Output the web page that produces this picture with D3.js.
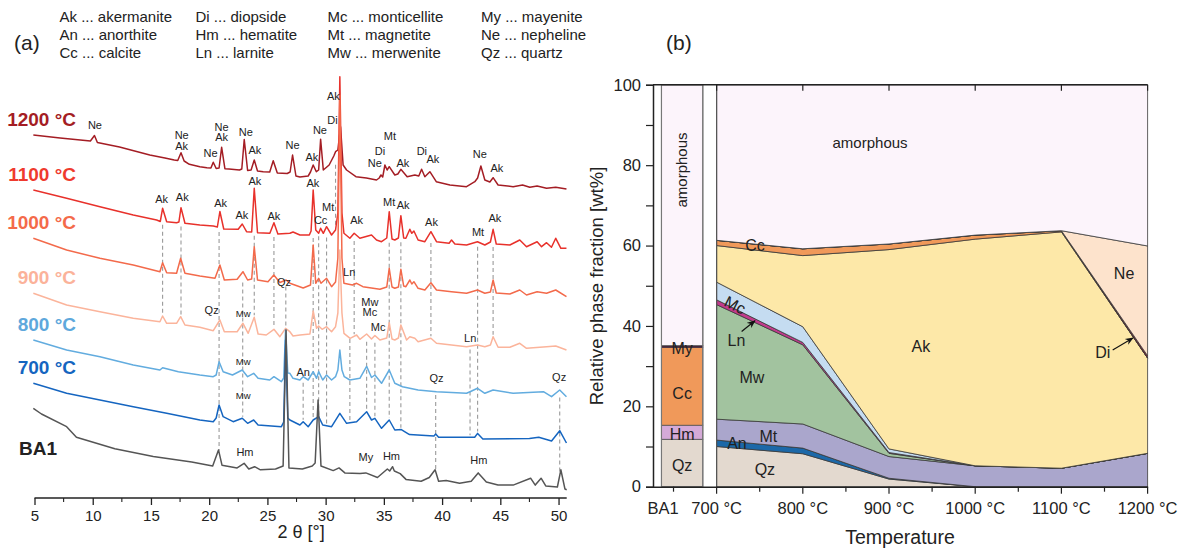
<!DOCTYPE html>
<html>
<head>
<meta charset="utf-8">
<script src="https://cdn.jsdelivr.net/npm/d3@7"></script>
<style>
  body { margin: 0; background: #fff; }
  svg { display: block; }
  text { font-family: Arial, "Liberation Sans", Helvetica, sans-serif; fill: #222; }
</style>
</head>
<body>
<svg id="fig" width="1180" height="550"></svg>
<script>
// ---------- (a) XRD patterns ----------
const legendRows = [
  ["Ak ... akermanite", "Di ... diopside", "Mc ... monticellite", "My ... mayenite"],
  ["An ... anorthite", "Hm ... hematite", "Mt ... magnetite", "Ne ... nepheline"],
  ["Cc ... calcite", "Ln ... larnite", "Mw ... merwenite", "Qz ... quartz"]
];

const sampleNames = ["BA1", "700 °C", "800 °C", "900 °C", "1000 °C", "1100 °C", "1200 °C"];
const sampleColors = ["#555555", "#1565c0", "#62acdf", "#fbb49b", "#f36a4b", "#e8312b", "#a41d24"];
const sampleLabelColors = ["#222222", "#1565c0", "#5ea8dc", "#fbb29a", "#f46a4a", "#ef3a2e", "#a41d24"];

// [2θ in °, stacked intensity in a.u.]
const xrdBA1 = [[4.9,89.7],[5.6,84],[7.76,71.3],[8.6,60.8],[11.9,49.3],[15.2,41.6],[18.5,35.9],[20.3,32],[20.8,48.1],[21.1,32.8],[22.4,30.1],[23.0,34.7],[23.4,29],[23.9,31.3],[24.4,28.2],[25.7,29],[26.35,32],[26.6,168],[26.85,30.1],[28.0,29],[28.85,32],[29.1,35],[29.35,98],[29.6,32],[30.65,27.4],[31.15,30.1],[31.65,25.1],[32.95,24.4],[33.45,25.1],[34.45,20.5],[35.3,29],[35.5,27],[35.75,31.3],[35.9,27],[36.4,24.4],[36.9,18.6],[38.2,16.7],[38.9,20.5],[39.4,28.2],[39.7,16.7],[40.35,17.5],[41.5,14.8],[42.5,16.7],[43.1,25.1],[43.8,15.9],[44.8,12.9],[46.1,12.9],[47.6,19.8],[48.0,12.9],[48.5,19.8],[48.9,12.1],[49.9,11],[50.2,28.2],[50.55,9],[50.7,8.3]];
const xrd700 = [[4.9,114.7],[7.76,104.7],[10.62,98],[13.48,91.3],[16.35,84.7],[19.2,78],[20.35,76.3],[20.6,80],[20.85,93],[21.2,81.3],[22.06,76.3],[22.84,79.7],[23.3,74.7],[23.82,78],[24.2,73],[26.2,71.3],[26.4,76],[26.56,158],[26.75,80],[26.93,78],[27.79,73],[28.07,76.3],[28.5,71.3],[28.93,78],[29.4,81.3],[29.75,73],[30.51,71.3],[31.22,84.7],[31.8,74.7],[32.66,76.3],[33.52,86.3],[33.94,78],[34.23,79.7],[34.8,69.7],[35.46,78],[35.94,68],[36.5,68.4],[37.2,63.4],[39.3,62],[39.45,64],[39.7,60.8],[42.8,60.8],[43.05,64.6],[43.5,59],[47.5,59.6],[48.3,60.8],[49.4,57],[50.1,67.3],[50.68,55]];
const xrd800 = [[4.9,158],[7.76,148],[10.62,141.3],[13.48,133],[15.77,128],[16.0,130.3],[17.35,126.3],[19.2,123],[20.35,121.3],[20.6,123],[20.85,136.3],[21.2,126.3],[22.0,123],[22.84,128],[23.3,121.3],[23.82,124.7],[24.2,119.7],[25.2,118],[25.56,121.3],[26.2,116.3],[26.4,120],[26.56,168],[26.75,125],[26.93,124.7],[27.2,119.7],[27.79,118],[28.07,121.3],[28.5,118],[28.93,126.3],[29.22,119.7],[29.4,126.3],[29.75,118],[30.08,123],[30.51,118],[30.85,121.3],[31.05,128],[31.22,148],[31.4,128],[31.6,121.3],[32.08,118],[32.94,119.7],[33.52,131.7],[33.94,120.5],[34.23,123],[34.8,114.7],[35.46,128],[35.94,114.7],[36.6,111.3],[37.94,108],[39.52,106.3],[42.1,104.7],[42.4,106.3],[43.04,109.7],[43.67,104.7],[44.38,108],[46.1,104.7],[48.7,106.3],[49.4,101.3],[50.1,108],[50.68,101.3]];
const xrd900 = [[4.9,204.7],[7.76,193],[10.62,186.3],[13.48,179.7],[15.77,176.3],[16.0,182],[16.35,174.7],[17.2,174.7],[17.55,181.3],[17.92,173],[19.2,170.7],[20.35,167.3],[20.92,178],[21.3,166.3],[22.4,166.3],[22.9,174.7],[23.35,164.7],[23.87,180.7],[24.2,164],[24.9,163],[25.56,168.7],[26.07,161.3],[26.56,169.7],[26.93,166.3],[27.2,162],[27.8,163],[28.65,164],[28.93,187],[29.22,169.7],[29.4,172],[29.7,168.7],[30.08,171.3],[30.51,166.3],[30.85,171.3],[31.05,185],[31.22,248],[31.4,185],[31.57,164.7],[32.1,159.7],[32.66,163],[32.94,158.7],[33.52,164],[33.94,159],[34.23,162.5],[34.66,158],[35.25,160],[35.46,175.3],[35.7,159],[35.94,158],[36.25,160],[36.46,173],[36.95,158],[37.23,161.3],[37.66,159.7],[37.94,156.3],[39.04,159.7],[39.52,154.7],[40.81,153],[42.1,151.3],[43.04,153],[43.67,151.3],[44.15,153],[44.38,161.3],[44.81,150.7],[45.82,150.7],[46.67,154.7],[47.25,149.7],[48.97,151.3],[49.76,152],[50.68,148]];
const xrd1000 = [[4.9,259.7],[7.76,248],[10.62,239.7],[13.48,233],[15.77,226.3],[16.0,235.3],[16.35,225.3],[17.2,224.7],[17.55,239.7],[17.92,224.7],[19.2,222],[20.5,219.7],[20.92,233],[21.3,218],[22.4,218.7],[22.9,226.3],[23.3,218],[23.65,219],[23.87,251.3],[24.15,218],[25.05,216.3],[25.55,223],[26.07,215.5],[26.6,218],[26.93,214.7],[28.07,210],[28.7,213],[28.93,253],[29.15,214.7],[29.4,219.7],[29.6,214.7],[30.08,219.7],[30.51,211.3],[30.85,216],[31.05,240],[31.22,403],[31.4,240],[31.57,214.7],[32.3,213],[32.66,214.7],[33.2,211.3],[34.66,208.7],[35.25,211],[35.46,229.7],[35.7,211],[35.94,209.7],[36.25,211],[36.46,228.7],[36.7,212],[36.89,211.3],[37.23,218],[37.4,214],[37.58,216.3],[37.94,209.7],[38.52,208],[39.04,215.3],[39.52,208],[40.81,206.3],[42.1,204.7],[43.04,208],[43.67,204.7],[44.15,206],[44.38,218],[44.65,205],[45.82,204],[46.67,208],[47.25,203],[48.16,206.3],[48.97,204.7],[49.76,208],[50.68,201.3]];
const xrd1100 = [[4.9,308],[7.76,299.7],[10.62,291.3],[13.48,283],[15.49,278],[15.8,276.5],[16.0,289.7],[16.35,276.3],[17.2,275.3],[17.4,276],[17.58,290.3],[17.92,274.7],[19.2,273],[20.35,272],[20.7,271],[20.92,286.5],[21.25,269],[22.49,268.7],[22.84,274],[23.21,266.3],[23.65,266],[23.87,309.7],[24.15,265.3],[25.21,264.7],[25.56,275.3],[25.9,264],[26.93,264.7],[27.2,266],[27.79,263],[28.6,263],[28.75,267],[28.93,308],[29.15,268],[29.4,264.7],[29.57,269.7],[29.8,264.7],[30.08,271.3],[30.51,263],[30.85,268],[31.05,285],[31.22,421.3],[31.4,285],[31.57,264.7],[32.08,259.7],[32.45,264.7],[32.94,259.7],[33.94,263],[34.37,258],[34.8,256.3],[35.25,260],[35.46,286.3],[35.7,259],[35.94,258],[36.25,260],[36.46,282.3],[36.7,260],[36.89,259.7],[37.23,268.7],[37.4,264.7],[37.58,267],[37.94,258],[38.52,256.3],[39.04,266.3],[39.52,256.3],[40.6,254.7],[40.81,258],[41.1,254],[42.1,253],[43.04,256.3],[43.67,253],[44.15,256],[44.38,268.7],[44.65,254],[45.82,253],[46.67,258],[47.25,251.3],[48.16,256.3],[48.54,251.3],[48.97,255.3],[49.39,250.7],[49.76,259.7],[50.2,249.7],[50.68,249.7]];
const xrd1200 = [[4.9,363],[7.2,360],[9.8,357],[10.15,362.5],[10.4,355.5],[12.3,351],[14.9,343],[16.2,340],[17.0,338],[17.3,337.5],[17.58,345.3],[17.85,337],[18.3,333.7],[19.2,331.3],[19.8,330.3],[20.15,330],[20.35,335.8],[20.6,329.5],[20.85,330],[21.07,350.7],[21.35,329.3],[21.7,329],[22.6,328],[22.8,329],[23.01,358.5],[23.3,327.5],[23.6,328],[23.87,338],[24.15,327],[24.64,326.3],[25.2,326],[25.5,337.3],[25.85,325],[26.7,324.5],[26.95,326],[27.16,343],[27.45,322],[27.79,321],[28.5,322],[28.7,326],[28.93,333],[29.2,326.3],[29.4,328],[29.57,358.7],[29.8,328],[30.3,333],[30.7,342],[30.85,346.3],[31.05,348],[31.28,371.3],[31.5,333],[31.8,328],[32.6,321.3],[33.5,320],[34.37,318],[34.6,320],[34.75,323],[34.9,321],[35.09,333],[35.28,328],[35.46,331.3],[35.94,323],[36.2,324],[36.46,328.7],[37.0,321.3],[37.66,323],[38.0,322],[38.24,328.7],[38.52,321.3],[38.95,326.3],[39.5,316.3],[40.67,313],[42.1,311.3],[42.81,316.3],[43.05,320],[43.33,332],[43.67,318],[44.1,316],[44.38,320.3],[44.81,313],[46.1,311.3],[46.91,313],[47.53,310.7],[48.16,312],[48.97,309.7],[49.76,310.7],[50.68,309]];
const patterns = [xrdBA1, xrd700, xrd800, xrd900, xrd1000, xrd1100, xrd1200];

// reflection guides: [2θ, upper pattern index, lower pattern index]
const guideLines = [
  [16.0,5,3],[17.58,5,3],[20.85,5,0],[22.88,4,1],[23.87,5,3],[25.56,5,3],[26.58,4,0],
  [28.07,2,1],[28.93,5,1],[29.4,5,1],[30.08,5,1],[30.85,6,5],[32.08,3,1],[32.45,5,3],
  [33.52,3,1],[34.23,3,1],[35.46,5,1],[36.46,5,1],[39.04,5,3],[39.45,2,0],[42.4,3,1],
  [43.05,5,1],[44.38,5,3],[50.1,2,0]
];

// peak labels: [text, 2θ, a.u., small]
const peakLabels = [
  ["Ne",10.19,373],["Ne",17.64,363],["Ak",17.64,352.3],["Ne",20.12,344.7],["Ne",21.07,371.3],["Ak",21.07,360.5],
  ["Ne",23.15,365.5],["Ak",23.92,348.3],["Ne",27.16,353],["Ak",28.82,341],["Ne",29.51,367.5],["Di",30.58,378],
  ["Ak",30.67,402],["Ne",34.23,335],["Di",34.66,347],["Mt",35.52,362],["Ak",36.63,335],["Di",38.26,347],
  ["Ak",39.21,339],["Ne",43.24,344],["Ak",44.7,330],
  ["Ak",15.92,298.7],["Ak",17.69,301.3],["Ak",20.98,295.3],["Ak",22.81,283],["Ak",23.93,317.3],["Ak",25.56,282.3],
  ["Ak",28.91,314.7],["Cc",29.57,278],["Mt",30.22,291.3],["Ak",32.66,278],["Mt",35.45,296.3],["Ak",36.66,293],
  ["Ak",39.09,276.3],["Mt",43.09,265.7],["Ak",44.53,279.7],
  ["Qz",26.42,216.3],["Ln",32.02,225.5],
  ["Qz",20.21,188],["Mw",22.92,184,1],["Mw",33.8,196.3],["Mc",33.8,186.3],["Mc",34.51,170.7],["Ln",42.41,159.7],
  ["Mw",22.92,136.3,1],["An",28.07,126.3],["Qz",39.52,119.7],["Qz",50.05,121.3],
  ["Mw",22.92,102,1],["Hm",23.07,45.4],["My",33.45,40.5],["Hm",35.65,41.6],["Hm",43.15,37.8]
];

const twoThetaTicks = [5, 10, 15, 20, 25, 30, 35, 40, 45, 50];

// ---------- (b) phase fractions ----------
const temps = [700, 800, 900, 1000, 1100, 1200];
const phaseKeys = ["Qz", "An", "Mt", "Mw", "Ln", "Mc", "Ak", "Cc", "Di", "Ne", "amorphous"];
const qz  = [10.0, 8.2, 1.9, 0, 0, 0];
const an  = [1.6, 1.4, 0.2, 0, 0, 0];
const mt  = [5.2, 6.0, 5.4, 5.2, 4.6, 8.3];
const mw  = [28.5, 19.7, 0.8, 0, 0, 0];
const ln  = [1.2, 0.6, 0.2, 0, 0, 0];
const mc  = [4.4, 3.9, 0.9, 0, 0, 0];
const ak  = [9.1, 17.7, 49.6, 56.4, 58.8, 23.7];
const cc  = [1.3, 1.7, 1.4, 1.0, 0.3, 0];
const di  = [0, 0, 0, 0, 0, 0.6];
const ne  = [0, 0, 0, 0, 0, 27.3];
const phaseSeries = { Qz: qz, An: an, Mt: mt, Mw: mw, Ln: ln, Mc: mc, Ak: ak, Cc: cc, Di: di, Ne: ne };

const ba1Keys = ["Qz", "Hm", "Cc", "My", "amorphous"];
const ba1Values = [11.8, 3.5, 19.4, 0.4, 64.9];
const ba1Span = [636, 684];

const phaseColors = {
  Qz: "#e3d9cf", An: "#1c68a8", Mt: "#aaa6cc", Mw: "#a2c39f", Ln: "#c23a8c", Mc: "#c5dcf1",
  Ak: "#fde8a8", Cc: "#f0995a", Di: "#8a1a2a", Ne: "#fde3cc", Hm: "#d5aad8", My: "#4a2a40",
  amorphous: "#fcf4fb"
};

const tempTicks = [700, 800, 900, 1000, 1100, 1200];
const fractionTicks = [0, 20, 40, 60, 80, 100];

// [text, °C, wt%, rotation]
const areaLabels = [
  ["amorphous", 878, 85.6, 0], ["Cc", 744.5, 60.1, 0], ["Mc", 721.5, 45.2, 27], ["Ln", 723, 36.3, 0],
  ["Mw", 741, 27.3, 0], ["Mt", 760, 12.6, 0], ["An", 723.6, 10.9, 0], ["Qz", 756, 4.4, 0],
  ["Ak", 937, 34.8, 0], ["Ne", 1172.7, 53.1, 0], ["Di", 1148, 33.5, 0]
];
const ba1Labels = [["My", 34.5], ["Cc", 23.1], ["Hm", 13.1], ["Qz", 5.4]];
// [from °C, from wt%, to °C, to wt%]
const arrows = [[729, 38.6, 744.5, 41.3], [1159.5, 34.0, 1183, 37.0]];

// ================= drawing =================
const svg = d3.select("#fig");
const defs = svg.append("defs");
defs.append("marker").attr("id", "ah").attr("viewBox", "0 0 10 10").attr("refX", 9).attr("refY", 5)
  .attr("markerWidth", 7).attr("markerHeight", 7).attr("orient", "auto")
  .append("path").attr("d", "M0,1 L10,5 L0,9 L3,5 Z").attr("fill", "#111");

// ----- panel (a)
const x = d3.scaleLinear().domain([5, 50.7]).range([34.5, 566.7]);
const yI = d3.scaleLinear().domain([0, 420]).range([498, 78]);

svg.append("text").attr("x", 14).attr("y", 43).attr("dy", "0.35em").attr("font-size", 21).text("(a)");
const legCols = [59.5, 195.5, 327.5, 481];
legendRows.forEach((row, r) => row.forEach((t, c) => {
  svg.append("text").attr("x", legCols[c]).attr("y", 17 + r * 18).attr("dy", "0.35em")
    .attr("font-size", 15).text(t);
}));

function valueAt(pts, t) {
  const i = d3.bisector(d => d[0]).left(pts, t);
  if (i <= 0) return pts[0][1];
  if (i >= pts.length) return pts[pts.length - 1][1];
  const a = pts[i - 1], b = pts[i];
  return a[1] + (b[1] - a[1]) * (t - a[0]) / (b[0] - a[0]);
}

const gGuide = svg.append("g");
guideLines.forEach(([t, up, lo]) => {
  const top = Math.min(valueAt(patterns[up], t - 0.4), valueAt(patterns[up], t + 0.4));
  const bot = valueAt(patterns[lo], t);
  gGuide.append("line").attr("x1", x(t)).attr("x2", x(t))
    .attr("y1", yI(top) + 3).attr("y2", yI(bot) - 2)
    .attr("stroke", "#9a9a9a").attr("stroke-width", 1.1).attr("stroke-dasharray", "4,3");
});

const line = d3.line().x(d => x(d[0])).y(d => yI(d[1]));
const drawOrder = [6, 5, 4, 3, 2, 1, 0];
drawOrder.forEach(i => {
  svg.append("path").datum(patterns[i]).attr("d", line)
    .attr("fill", "none").attr("stroke", sampleColors[i]).attr("stroke-width", 1.5)
    .attr("stroke-linejoin", "round");
});

// sample names
patterns.forEach((p, i) => {
  const t = svg.append("text").attr("font-size", 19).attr("font-weight", "bold")
    .style("fill", sampleLabelColors[i]).attr("dy", "0.35em").text(sampleNames[i]);
  if (i === 0) t.attr("x", 19).attr("y", yI(p[0][1]) + 40);
  else t.attr("x", 76).attr("text-anchor", "end").attr("y", yI(p[0][1]) - 16);
});

peakLabels.forEach(([txt, t, v, small]) => {
  svg.append("text").attr("x", x(t)).attr("y", yI(v)).attr("dy", "0.35em")
    .attr("text-anchor", "middle").attr("font-size", small ? 9.5 : 11).text(txt);
});

const axA = svg.append("g").attr("transform", "translate(0,498)");
axA.append("line").attr("x1", x(5)).attr("x2", x(50.7)).attr("stroke", "#222").attr("stroke-width", 1.5);
axA.call(g => {
  const ax = d3.axisBottom(x).tickValues(twoThetaTicks).tickSize(7).tickPadding(5).tickFormat(d3.format("d"));
  g.call(ax);
  g.select(".domain").remove();
  g.selectAll(".tick line").attr("stroke", "#222").attr("stroke-width", 1.3);
  g.selectAll(".tick text").attr("font-size", 15).attr("fill", "#222").style("font-family", "Arial, 'Liberation Sans', sans-serif");
});
d3.range(7.5, 50, 5).forEach(t => {
  axA.append("line").attr("x1", x(t)).attr("x2", x(t)).attr("y1", 0).attr("y2", 4)
    .attr("stroke", "#222").attr("stroke-width", 1.1);
});
svg.append("text").attr("x", x(27.9)).attr("y", 532).attr("dy", "0.35em").attr("text-anchor", "middle")
  .attr("font-size", 18).text("2 θ [°]");

// ----- panel (b)
const xT = d3.scaleLinear().domain([626.2, 1200]).range([653, 1147.6]);
const yP = d3.scaleLinear().domain([0, 100]).range([486.7, 84.8]);

svg.append("text").attr("x", 666).attr("y", 43).attr("dy", "0.35em").attr("font-size", 21).text("(b)");

const rows = temps.map((t, i) => {
  const r = { t };
  let s = 0;
  Object.keys(phaseSeries).forEach(k => { r[k] = phaseSeries[k][i]; s += phaseSeries[k][i]; });
  r.amorphous = 100 - s;
  return r;
});
const stacked = d3.stack().keys(phaseKeys)(rows);
const area = d3.area().x(d => xT(d.data.t)).y0(d => yP(d[0])).y1(d => yP(d[1]));
const gArea = svg.append("g");
stacked.forEach(s => {
  gArea.append("path").datum(s).attr("d", area)
    .attr("fill", phaseColors[s.key]).attr("stroke", "#3a3a3a").attr("stroke-width", 0.8)
    .attr("stroke-linejoin", "round");
});
svg.append("line").attr("x1", xT(700)).attr("x2", xT(700)).attr("y1", yP(0)).attr("y2", yP(100))
  .attr("stroke", "#555").attr("stroke-width", 1.2);

// BA1 column
let acc = 0;
const gBA = svg.append("g");
ba1Keys.forEach((k, i) => {
  const v0 = acc, v1 = acc + ba1Values[i];
  acc = v1;
  gBA.append("rect").attr("x", xT(ba1Span[0])).attr("width", xT(ba1Span[1]) - xT(ba1Span[0]))
    .attr("y", yP(v1)).attr("height", yP(v0) - yP(v1))
    .attr("fill", phaseColors[k]).attr("stroke", k === "My" ? "#3a2236" : "#555").attr("stroke-width", 0.8);
});
gBA.append("rect").attr("x", xT(ba1Span[0])).attr("width", xT(ba1Span[1]) - xT(ba1Span[0]))
  .attr("y", yP(100)).attr("height", yP(0) - yP(100)).attr("fill", "none")
  .attr("stroke", "#777").attr("stroke-width", 1.2);

const ba1Mid = (ba1Span[0] + ba1Span[1]) / 2;
ba1Labels.forEach(([txt, v]) => {
  svg.append("text").attr("x", xT(ba1Mid)).attr("y", yP(v)).attr("dy", "0.35em")
    .attr("text-anchor", "middle").attr("font-size", 16).text(txt);
});
svg.append("text").attr("transform", `translate(${xT(ba1Mid)},${yP(78.8)}) rotate(-90)`)
  .attr("dy", "0.35em").attr("text-anchor", "middle").attr("font-size", 15).text("amorphous");

areaLabels.forEach(([txt, t, v, rot]) => {
  svg.append("text").attr("transform", `translate(${xT(t)},${yP(v)}) rotate(${rot})`)
    .attr("dy", "0.35em").attr("text-anchor", "middle").attr("font-size", txt === "amorphous" ? 15 : 16).text(txt);
});
arrows.forEach(([t0, v0, t1, v1]) => {
  svg.append("line").attr("x1", xT(t0)).attr("y1", yP(v0)).attr("x2", xT(t1)).attr("y2", yP(v1))
    .attr("stroke", "#111").attr("stroke-width", 1.2).attr("marker-end", "url(#ah)");
});

// axes of (b)
const gAx = svg.append("g");
const yAxis = d3.axisLeft(yP).tickValues(d3.range(0, 101, 10)).tickSize(7).tickPadding(5)
  .tickFormat(d => fractionTicks.includes(d) ? d : "");
gAx.append("g").attr("transform", `translate(${xT(626.2)},0)`).call(yAxis)
  .call(g => {
    g.select(".domain").attr("stroke", "#222").attr("stroke-width", 1.5);
    g.selectAll(".tick line").attr("stroke", "#222").attr("stroke-width", 1.2);
    g.selectAll(".tick text").attr("font-size", 16.5).attr("fill", "#222").style("font-family", "Arial, 'Liberation Sans', sans-serif");
  });
const xAxis = d3.axisBottom(xT).tickValues(d3.range(650, 1201, 50)).tickSize(0).tickFormat("");
const gx = gAx.append("g").attr("transform", `translate(0,${yP(0)})`).call(xAxis);
gx.select(".domain").attr("stroke", "#222").attr("stroke-width", 1.5);
d3.range(650, 1201, 50).forEach(t => {
  const major = tempTicks.includes(t);
  gx.append("line").attr("x1", xT(t)).attr("x2", xT(t)).attr("y1", 0).attr("y2", major ? 7 : 5)
    .attr("stroke", "#222").attr("stroke-width", 1.2);
});
tempTicks.forEach(t => {
  gx.append("text").attr("x", xT(t)).attr("y", 22).attr("dy", "0.35em").attr("text-anchor", "middle")
    .attr("font-size", 16.5).text(`${t} °C`);
});
gx.append("text").attr("x", 663).attr("y", 22).attr("dy", "0.35em").attr("text-anchor", "middle")
  .attr("font-size", 16.5).text("BA1");
// top frame
gAx.append("line").attr("x1", xT(626.2)).attr("x2", xT(1200)).attr("y1", yP(100)).attr("y2", yP(100))
  .attr("stroke", "#222").attr("stroke-width", 1.5);
tempTicks.forEach(t => {
  gAx.append("line").attr("x1", xT(t)).attr("x2", xT(t)).attr("y1", yP(100)).attr("y2", yP(100) + 6)
    .attr("stroke", "#222").attr("stroke-width", 1.2);
});
svg.append("text").attr("x", 900).attr("y", 537).attr("dy", "0.35em").attr("text-anchor", "middle")
  .attr("font-size", 19.5).text("Temperature");
svg.append("text").attr("transform", "translate(597,286) rotate(-90)").attr("dy", "0.35em")
  .attr("text-anchor", "middle").attr("font-size", 18.5).text("Relative phase fraction [wt%]");
</script>
</body>
</html>
